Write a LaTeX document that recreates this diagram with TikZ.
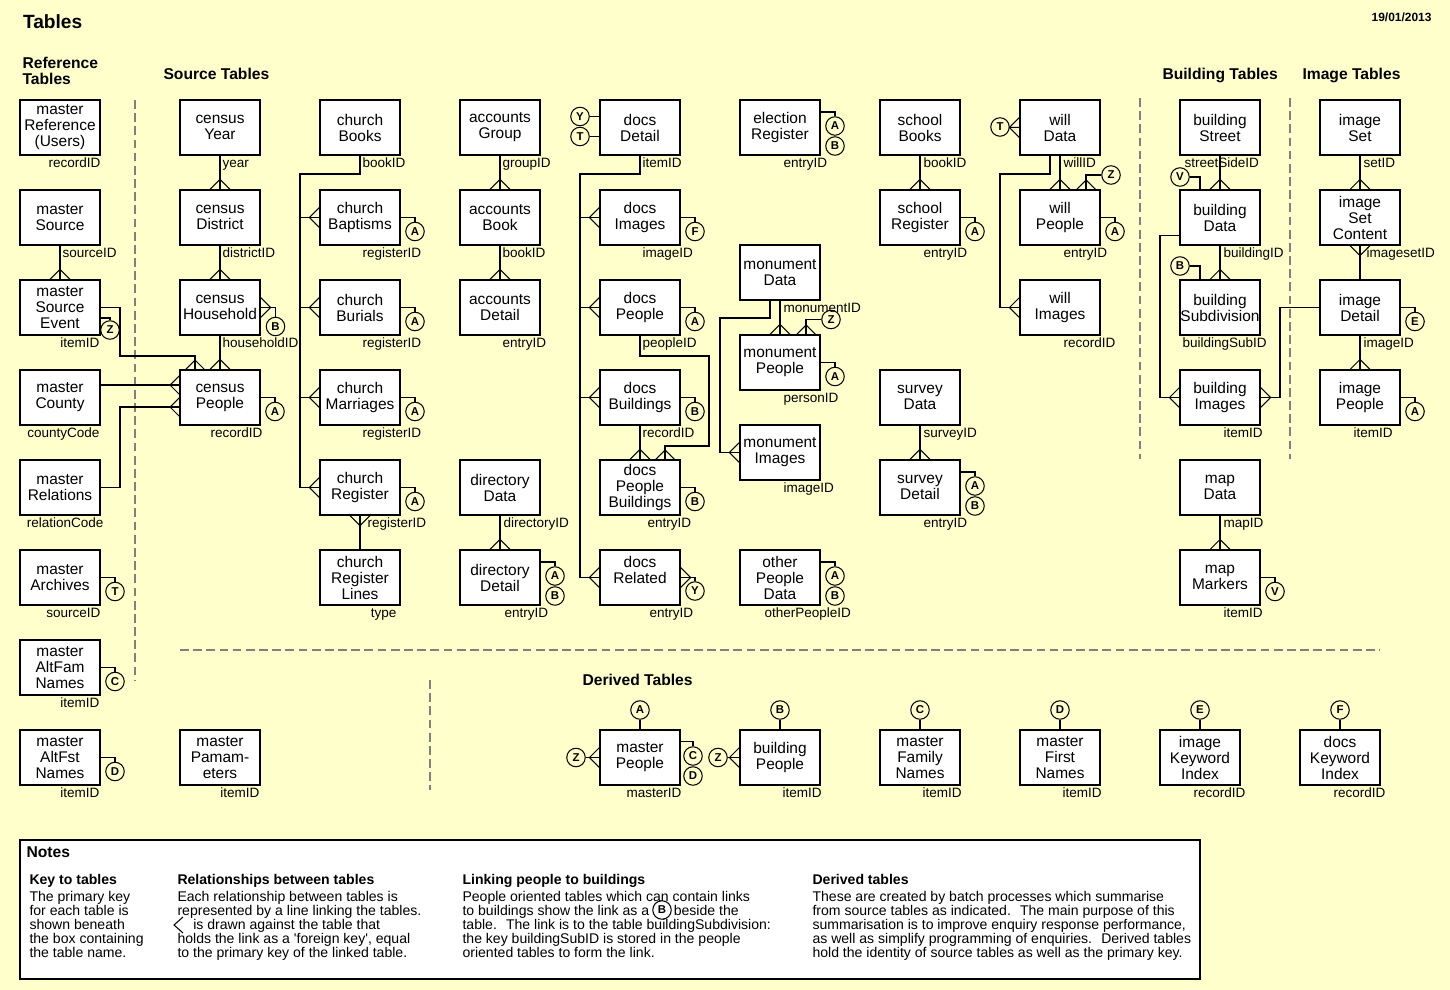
\documentclass[tikz,border=0pt]{standalone}
\usepackage{fontspec}
\setmainfont{Liberation Sans}
\usetikzlibrary{shadows}
\definecolor{bgyellow}{HTML}{FFFFCC}

\begin{document}
\begin{tikzpicture}[x=0.02cm, y=-0.02cm, line width=0.6pt,
	tbl/.style = {draw, fill=white, minimum width=1.6cm, minimum height=1.1cm, inner xsep=0pt, inner ysep=1pt, align=center, font=\fontsize{8.8}{9.1}\selectfont, drop shadow={shadow xshift=0.6pt, shadow yshift=-0.6pt, opacity=0.4}},
	pkey/.style = {anchor=base west, inner sep=0pt, font=\fontsize{7.7}{8}\selectfont},
	ref/.style = {draw, circle, minimum size=0.37cm, inner sep=0pt, font=\bfseries\fontsize{6.5}{7}\selectfont},
	head/.style = {anchor=base west, inner sep=0pt, font=\bfseries\fontsize{8.9}{9.1}\selectfont},
	nsub/.style = {anchor=north west, inner sep=0pt, font=\bfseries\fontsize{8}{9}\selectfont},
	nbody/.style = {anchor=north west, inner sep=0pt, align=left, font=\fontsize{8}{7.94}\selectfont},
	divider/.style = {draw=gray, dash pattern=on 5pt off 2.5pt, line width=0.8pt},
	crowN/.pic = {\draw (-10,0) -- (0,-10) -- (10,0);},
	crowS/.pic = {\draw (-10,0) -- (0,10) -- (10,0);},
	crowW/.pic = {\draw (0,-10) -- (-10,0) -- (0,10);},
	crowE/.pic = {\draw (0,-10) -- (10,0) -- (0,10);}]
	\path[use as bounding box, fill=bgyellow] (0,0) rectangle (1450,990);

	\node[head, font=\bfseries\fontsize{10.9}{12}\selectfont] (title) at (22.5,28.3) {Tables};
	\node[head, anchor=base east, font=\bfseries\fontsize{6.8}{7}\selectfont] (date) at (1432,22) {19/01/2013};
	\node[head, anchor=north west, align=left] (hRef) at (22,56.5) {Reference\\Tables};
	\node[head] (hSrc) at (163,80) {Source Tables};
	\node[head] (hBld) at (1162,80) {Building Tables};
	\node[head] (hImg) at (1302,80) {Image Tables};
	\node[head] (hDer) at (582,685) {Derived Tables};

	\draw[divider] (135,100) -- (135,680);
	\draw[divider] (1140,98) -- (1140,459);
	\draw[divider] (1290,98) -- (1290,459);
	\draw[divider] (180,650) -- (1380,650);
	\draw[divider] (430,680) -- (430,790);

	\node[tbl] (mRef) at (60,127.5) {master\\Reference\\(Users)};
	\node[tbl] (mSrc) at (60,217.5) {master\\Source};
	\node[tbl] (mSrcEv) at (60,307.5) {master\\Source\\Event};
	\node[tbl] (mCounty) at (60,397.5) {master\\County};
	\node[tbl] (mRel) at (60,487.5) {master\\Relations};
	\node[tbl] (mArch) at (60,577.5) {master\\Archives};
	\node[tbl] (mAltFam) at (60,667.5) {master\\AltFam\\Names};
	\node[tbl] (mAltFst) at (60,757.5) {master\\AltFst\\Names};

	\node[tbl] (cYear) at (220,127.5) {census\\Year};
	\node[tbl] (cDist) at (220,217.5) {census\\District};
	\node[tbl] (cHouse) at (220,307.5) {census\\Household};
	\node[tbl] (cPeople) at (220,397.5) {census\\People};
	\node[tbl] (mPamam) at (220,757.5) {master\\Pamam-\\eters};

	\node[tbl] (chBooks) at (360,127.5) {church\\Books};
	\node[tbl] (chBapt) at (360,217.5) {church\\Baptisms};
	\node[tbl] (chBur) at (360,307.5) {church\\Burials};
	\node[tbl] (chMarr) at (360,397.5) {church\\Marriages};
	\node[tbl] (chReg) at (360,487.5) {church\\Register};
	\node[tbl] (chRegL) at (360,577.5) {church\\Register\\Lines};

	\node[tbl] (accGroup) at (500,127.5) {accounts\\Group};
	\node[tbl] (accBook) at (500,217.5) {accounts\\Book};
	\node[tbl] (accDet) at (500,307.5) {accounts\\Detail};
	\node[tbl] (dirData) at (500,487.5) {directory\\Data};
	\node[tbl] (dirDet) at (500,577.5) {directory\\Detail};

	\node[tbl] (docsDet) at (640,127.5) {docs\\Detail};
	\node[tbl] (docsImg) at (640,217.5) {docs\\Images};
	\node[tbl] (docsPeo) at (640,307.5) {docs\\People};
	\node[tbl] (docsBld) at (640,397.5) {docs\\Buildings};
	\node[tbl] (docsPB) at (640,487.5) {docs\\People\\Buildings};
	\node[tbl] (docsRel) at (640,577.5) {docs\\Related\\~};

	\node[tbl] (elecReg) at (780,127.5) {election\\Register};
	\node[tbl] (monData) at (780,272.5) {monument\\Data};
	\node[tbl] (monPeo) at (780,362.5) {monument\\People};
	\node[tbl] (monImg) at (780,452.5) {monument\\Images};
	\node[tbl] (otherPeo) at (780,577.5) {other\\People\\Data};

	\node[tbl] (schBooks) at (920,127.5) {school\\Books};
	\node[tbl] (schReg) at (920,217.5) {school\\Register};
	\node[tbl] (survData) at (920,397.5) {survey\\Data};
	\node[tbl] (survDet) at (920,487.5) {survey\\Detail};

	\node[tbl] (willData) at (1060,127.5) {will\\Data};
	\node[tbl] (willPeo) at (1060,217.5) {will\\People};
	\node[tbl] (willImg) at (1060,307.5) {will\\Images};

	\node[tbl] (bldStreet) at (1220,127.5) {building\\Street};
	\node[tbl] (bldData) at (1220,217.5) {building\\Data};
	\node[tbl] (bldSub) at (1220,307.5) {building\\Subdivision};
	\node[tbl] (bldImg) at (1220,397.5) {building\\Images};
	\node[tbl] (mapData) at (1220,487.5) {map\\Data};
	\node[tbl] (mapMark) at (1220,577.5) {map\\Markers};

	\node[tbl] (imgSet) at (1360,127.5) {image\\Set};
	\node[tbl] (imgSetC) at (1360,217.5) {image\\Set\\Content};
	\node[tbl] (imgDet) at (1360,307.5) {image\\Detail};
	\node[tbl] (imgPeo) at (1360,397.5) {image\\People};

	\node[tbl] (mPeople) at (640,757.5) {master\\People};
	\node[tbl] (bldPeople) at (780,757.5) {building\\People};
	\node[tbl] (mFamNames) at (920,757.5) {master\\Family\\Names};
	\node[tbl] (mFirstNames) at (1060,757.5) {master\\First\\Names};
	\node[tbl] (imgKw) at (1200,757.5) {image\\Keyword\\Index};
	\node[tbl] (docsKw) at (1340,757.5) {docs\\Keyword\\Index};

	\node[pkey, anchor=base east] (mRef-k) at (101,167) {recordID};
	\node[pkey] (mSrc-k) at (62,257) {sourceID};
	\node[pkey, anchor=base east] (mSrcEv-k) at (100,347) {itemID};
	\node[pkey, anchor=base east] (mCounty-k) at (100,437) {countyCode};
	\node[pkey, anchor=base east] (mRel-k) at (104,527) {relationCode};
	\node[pkey, anchor=base east] (mArch-k) at (101,617) {sourceID};
	\node[pkey, anchor=base east] (mAltFam-k) at (100,707) {itemID};
	\node[pkey, anchor=base east] (mAltFst-k) at (100,797) {itemID};
	\node[pkey] (cYear-k) at (222,167) {year};
	\node[pkey] (cDist-k) at (222,257) {districtID};
	\node[pkey] (cHouse-k) at (222,347) {householdID};
	\node[pkey, anchor=base east] (cPeople-k) at (263,437) {recordID};
	\node[pkey, anchor=base east] (mPamam-k) at (260,797) {itemID};
	\node[pkey] (chBooks-k) at (362,167) {bookID};
	\node[pkey] (chBapt-k) at (362,257) {registerID};
	\node[pkey] (chBur-k) at (362,347) {registerID};
	\node[pkey] (chMarr-k) at (362,437) {registerID};
	\node[pkey] (chReg-k) at (367,527) {registerID};
	\node[pkey, anchor=base east] (chRegL-k) at (397,617) {type};
	\node[pkey] (accGroup-k) at (502,167) {groupID};
	\node[pkey] (accBook-k) at (502,257) {bookID};
	\node[pkey] (accDet-k) at (502,347) {entryID};
	\node[pkey] (dirData-k) at (503,527) {directoryID};
	\node[pkey] (dirDet-k) at (504,617) {entryID};
	\node[pkey] (docsDet-k) at (642,167) {itemID};
	\node[pkey] (docsImg-k) at (642,257) {imageID};
	\node[pkey] (docsPeo-k) at (642,347) {peopleID};
	\node[pkey] (docsBld-k) at (642,437) {recordID};
	\node[pkey] (docsPB-k) at (647,527) {entryID};
	\node[pkey] (docsRel-k) at (649,617) {entryID};
	\node[pkey] (elecReg-k) at (783,167) {entryID};
	\node[pkey] (monData-k) at (783,312) {monumentID};
	\node[pkey] (monPeo-k) at (783,402) {personID};
	\node[pkey] (monImg-k) at (783,492) {imageID};
	\node[pkey] (otherPeo-k) at (764,617) {otherPeopleID};
	\node[pkey] (schBooks-k) at (923,167) {bookID};
	\node[pkey] (schReg-k) at (923,257) {entryID};
	\node[pkey] (survData-k) at (923,437) {surveyID};
	\node[pkey] (survDet-k) at (923,527) {entryID};
	\node[pkey] (willData-k) at (1063,167) {willID};
	\node[pkey] (willPeo-k) at (1063,257) {entryID};
	\node[pkey] (willImg-k) at (1063,347) {recordID};
	\node[pkey] (bldStreet-k) at (1184,167) {streetSideID};
	\node[pkey] (bldData-k) at (1223,257) {buildingID};
	\node[pkey] (bldSub-k) at (1182,347) {buildingSubID};
	\node[pkey] (bldImg-k) at (1223,437) {itemID};
	\node[pkey] (mapData-k) at (1223,527) {mapID};
	\node[pkey] (mapMark-k) at (1223,617) {itemID};
	\node[pkey] (imgSet-k) at (1363,167) {setID};
	\node[pkey] (imgSetC-k) at (1366,257) {imagesetID};
	\node[pkey] (imgDet-k) at (1363,347) {imageID};
	\node[pkey] (imgPeo-k) at (1353,437) {itemID};
	\node[pkey] (mPeople-k) at (626,797) {masterID};
	\node[pkey] (bldPeople-k) at (782,797) {itemID};
	\node[pkey] (mFamNames-k) at (922,797) {itemID};
	\node[pkey] (mFirstNames-k) at (1062,797) {itemID};
	\node[pkey] (imgKw-k) at (1193,797) {recordID};
	\node[pkey] (docsKw-k) at (1333,797) {recordID};

	\node[ref] (mSrcEv-Z) at (110,330) {Z};
	\node[ref] (mArch-T) at (115,591.5) {T};
	\node[ref] (mAltFam-C) at (115,681.5) {C};
	\node[ref] (mAltFst-D) at (115,771.5) {D};
	\node[ref] (cHouse-B) at (275.5,326.5) {B};
	\node[ref] (cPeople-A) at (275,411.5) {A};
	\node[ref] (chBapt-A) at (415,231.5) {A};
	\node[ref] (chBur-A) at (415,321.5) {A};
	\node[ref] (chMarr-A) at (415,411.5) {A};
	\node[ref] (chReg-A) at (415,501.5) {A};
	\node[ref] (dirDet-A) at (555,576) {A};
	\node[ref] (dirDet-B) at (555,596) {B};
	\node[ref] (docsDet-Y) at (580,116.5) {Y};
	\node[ref] (docsDet-T) at (580,136.5) {T};
	\node[ref] (docsImg-F) at (695,231.5) {F};
	\node[ref] (docsPeo-A) at (695,321.5) {A};
	\node[ref] (docsBld-B) at (695,411.5) {B};
	\node[ref] (docsPB-B) at (695,501.5) {B};
	\node[ref] (docsRel-Y) at (695,591) {Y};
	\node[ref] (elecReg-A) at (835,126) {A};
	\node[ref] (elecReg-B) at (835,146) {B};
	\node[ref] (monPeo-Z) at (831,319.5) {Z};
	\node[ref] (monPeo-A) at (835,376.5) {A};
	\node[ref] (otherPeo-A) at (835,576) {A};
	\node[ref] (otherPeo-B) at (835,596) {B};
	\node[ref] (schReg-A) at (975,231.5) {A};
	\node[ref] (survDet-A) at (975,486) {A};
	\node[ref] (survDet-B) at (975,506) {B};
	\node[ref] (willData-T) at (1000,127) {T};
	\node[ref] (willPeo-Z) at (1111,175) {Z};
	\node[ref] (willPeo-A) at (1115,231.5) {A};
	\node[ref] (bldData-V) at (1180,177) {V};
	\node[ref] (bldSub-B) at (1180,266) {B};
	\node[ref] (mapMark-V) at (1275,591.5) {V};
	\node[ref] (imgDet-E) at (1415,321.5) {E};
	\node[ref] (imgPeo-A) at (1415,411.5) {A};
	\node[ref] (mPeople-A) at (640,710) {A};
	\node[ref] (mPeople-Z) at (576,757.5) {Z};
	\node[ref] (mPeople-C) at (693,756) {C};
	\node[ref] (mPeople-D) at (693,776) {D};
	\node[ref] (bldPeople-B) at (780,710) {B};
	\node[ref] (bldPeople-Z) at (718,757.5) {Z};
	\node[ref] (mFamNames-C) at (920,710) {C};
	\node[ref] (mFirstNames-D) at (1060,710) {D};
	\node[ref] (imgKw-E) at (1200,710) {E};
	\node[ref] (docsKw-F) at (1340,710) {F};

	\coordinate (cPeople-n1) at (195,370);
	\coordinate (cPeople-w1) at (180,385);
	\coordinate (cPeople-w2) at (180,407);
	\coordinate (chTrunk) at (300,174);
	\coordinate (docsTrunk) at (580,174);
	\coordinate (docsPB-n2) at (665,460);
	\coordinate (monPeo-z) at (806,335);
	\coordinate (willPeo-z) at (1086,190);
	\coordinate (bldData-v) at (1200,190);
	\coordinate (bldSub-v) at (1200,280);

	\draw (mSrc) -- (mSrcEv);
	\draw (mSrcEv.east) ++(0,10.5) -| (mSrcEv-Z);
	\draw (mSrcEv.east) -| (120,356) -| (cPeople-n1);
	\draw (mCounty.east |- cPeople-w1) -- (cPeople-w1);
	\draw (mRel.east) -| (120,407) -- (cPeople-w2);
	\draw (mArch.east) -| (mArch-T);
	\draw (mAltFam.east) -| (mAltFam-C);
	\draw (mAltFst.east) -| (mAltFst-D);

	\draw (cYear) -- (cDist);
	\draw (cDist) -- (cHouse);
	\draw (cHouse) -- (cPeople);
	\draw (cHouse.east) -| (cHouse-B);
	\draw (cPeople.east) -| (cPeople-A);

	\draw (chBooks.south) |- (chTrunk) |- (chReg.west);
	\draw (chTrunk) |- (chBapt.west);
	\draw (chTrunk) |- (chBur.west);
	\draw (chTrunk) |- (chMarr.west);
	\draw (chReg) -- (chRegL);
	\draw (chBapt.east) -| (chBapt-A);
	\draw (chBur.east) -| (chBur-A);
	\draw (chMarr.east) -| (chMarr-A);
	\draw (chReg.east) -| (chReg-A);

	\draw (accGroup) -- (accBook);
	\draw (accBook) -- (accDet);
	\draw (dirData) -- (dirDet);
	\draw (dirDet.north east) ++(0,12.5) -| (dirDet-A);

	\draw (docsDet.south) |- (docsTrunk) |- (docsRel.west);
	\draw (docsTrunk) |- (docsImg.west);
	\draw (docsTrunk) |- (docsPeo.west);
	\draw (docsTrunk) |- (docsBld.west);
	\draw (docsPeo.south) |- (709,356) |- (665,446) -- (docsPB-n2);
	\draw (docsBld) -- (docsPB);
	\draw (docsDet-Y) -- (docsDet-Y -| docsDet.west);
	\draw (docsDet-T) -- (docsDet-T -| docsDet.west);
	\draw (docsImg.east) -| (docsImg-F);
	\draw (docsPeo.east) -| (docsPeo-A);
	\draw (docsBld.east) -| (docsBld-B);
	\draw (docsPB.east) -| (docsPB-B);
	\draw (docsRel.east) -| (docsRel-Y);

	\draw (elecReg.north east) ++(0,12.5) -| (elecReg-A);
	\draw (monData) -- (monPeo);
	\draw (monData.south) ++(-10,0) |- (720,318) |- (monImg.west);
	\draw (monPeo-z) |- (monPeo-Z);
	\draw (monPeo.east) -| (monPeo-A);
	\draw (otherPeo.north east) ++(0,12.5) -| (otherPeo-A);

	\draw (schBooks) -- (schReg);
	\draw (schReg.east) -| (schReg-A);
	\draw (survData) -- (survDet);
	\draw (survDet.north east) ++(0,12.5) -| (survDet-A);

	\draw (willData) -- (willPeo);
	\draw (willData.south) ++(-10,0) |- (1000,174) |- (willImg.west);
	\draw (willData-T) -- (willData.west);
	\draw (willPeo-z) |- (willPeo-Z);
	\draw (willPeo.east) -| (willPeo-A);

	\draw (bldStreet) -- (bldData);
	\draw (bldData) -- (bldSub);
	\draw (bldData-V) -| (bldData-v);
	\draw (bldSub-B) -| (bldSub-v);
	\draw (bldData.west) ++(0,18) -| (1160,397.5) -- (bldImg.west);
	\draw (imgDet.west) -| (1280,397.5) -- (bldImg.east);
	\draw (mapData) -- (mapMark);
	\draw (mapMark.east) -| (mapMark-V);

	\draw (imgSet) -- (imgSetC);
	\draw (imgSetC) -- (imgDet);
	\draw (imgDet) -- (imgPeo);
	\draw (imgDet.east) -| (imgDet-E);
	\draw (imgPeo.east) -| (imgPeo-A);

	\draw (mPeople-A) -- (mPeople);
	\draw (mPeople-Z) -- (mPeople.west);
	\draw (mPeople.north east) ++(0,12) -| (mPeople-C);
	\draw (bldPeople-B) -- (bldPeople);
	\draw (bldPeople-Z) -- (bldPeople.west);
	\draw (mFamNames-C) -- (mFamNames);
	\draw (mFirstNames-D) -- (mFirstNames);
	\draw (imgKw-E) -- (imgKw);
	\draw (docsKw-F) -- (docsKw);

	\pic at (mSrcEv.north) {crowN};
	\pic at (cDist.north) {crowN};
	\pic at (cHouse.north) {crowN};
	\pic at (cPeople.north) {crowN};
	\pic at (cPeople-n1) {crowN};
	\pic at (cPeople-w1) {crowW};
	\pic at (cPeople-w2) {crowW};
	\pic at (cHouse.east) {crowE};
	\pic at (chBapt.west) {crowW};
	\pic at (chBur.west) {crowW};
	\pic at (chMarr.west) {crowW};
	\pic at (chReg.west) {crowW};
	\pic at (chReg.south) {crowS};
	\pic at (accBook.north) {crowN};
	\pic at (accDet.north) {crowN};
	\pic at (dirDet.north) {crowN};
	\pic at (docsImg.west) {crowW};
	\pic at (docsPeo.west) {crowW};
	\pic at (docsBld.west) {crowW};
	\pic at (docsRel.west) {crowW};
	\pic at (docsRel.east) {crowE};
	\pic at (docsPB.north) {crowN};
	\pic at (docsPB-n2) {crowN};
	\pic at (monPeo.north) {crowN};
	\pic at (monPeo-z) {crowN};
	\pic at (monImg.west) {crowW};
	\pic at (schReg.north) {crowN};
	\pic at (survDet.north) {crowN};
	\pic at (willPeo.north) {crowN};
	\pic at (willPeo-z) {crowN};
	\pic at (willData.west) {crowW};
	\pic at (willImg.west) {crowW};
	\pic at (bldData.north) {crowN};
	\pic at (bldSub.north) {crowN};
	\pic at (bldImg.west) {crowW};
	\pic at (bldImg.east) {crowE};
	\pic at (mapMark.north) {crowN};
	\pic at (imgSetC.north) {crowN};
	\pic at (imgSetC.south) {crowS};
	\pic at (imgPeo.north) {crowN};
	\pic at (mPeople.west) {crowW};
	\pic at (bldPeople.west) {crowW};

	\draw[fill=white] (20,840) rectangle (1200,979);
	\node[head, anchor=north west] (nHead) at (26,846.5) {Notes};
	\node[nsub] (nKey) at (29,874) {Key to tables};
	\node[nbody] (nKeyTxt) at (29,891) {The primary key\\for each table is\\shown beneath\\the box containing\\the table name.};
	\node[nsub] (nRel) at (177,874) {Relationships between tables};
	\node[nbody] (nRelTxt) at (177,891) {Each relationship between tables is\\represented by a line linking the tables.\\\hspace*{9pt}is drawn against the table that\\holds the link as a \textquotesingle foreign key\textquotesingle, equal\\to the primary key of the linked table.};
	\draw (183,917) -- (174,925) -- (183,933);
	\node[nsub] (nLink) at (462,874) {Linking people to buildings};
	\node[nbody] (nLinkTxt) at (462,891) {People oriented tables which can contain links\\to buildings show the link as a\hspace*{14pt}beside the\\table. \ The link is to the table buildingSubdivision:\\the key buildingSubID is stored in the people\\oriented tables to form the link.};
	\node[ref] (nB) at (662,910) {B};
	\node[nsub] (nDer) at (812,874) {Derived tables};
	\node[nbody] (nDerTxt) at (812,891) {These are created by batch processes which summarise\\from source tables as indicated. \ The main purpose of this\\summarisation is to improve enquiry response performance,\\as well as simplify programming of enquiries. \ Derived tables\\hold the identity of source tables as well as the primary key.};
\end{tikzpicture}
\end{document}
